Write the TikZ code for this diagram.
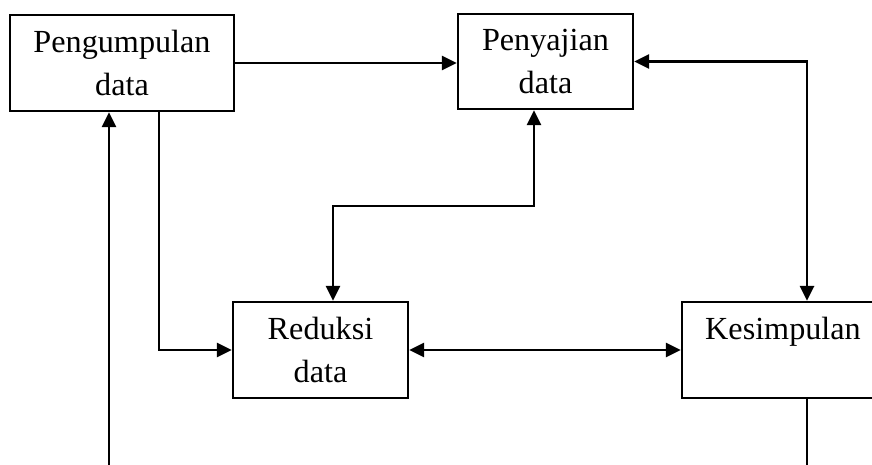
\documentclass[tikz,border=0pt]{standalone}
\usepackage{fontspec}
\setmainfont{Liberation Serif}
\usetikzlibrary{arrows.meta}
\tikzset{
  box/.style={draw, line width=1.1pt, align=center, inner sep=0pt,
    font=\fontsize{16.1}{21.2}\selectfont},
  conn/.style={line width=1.4pt, >={Triangle[length=7.5pt,width=7pt]}}
}
\begin{document}
\begin{tikzpicture}[x=0.5pt,y=-0.5pt]
\useasboundingbox (0,0) rectangle (872,465);
\clip (0,0) rectangle (872,465);
\node[box, minimum width=112pt, minimum height=48pt] (A) at (122,63) {Pengumpulan\\data};
\node[box, minimum width=87.5pt, minimum height=47.5pt] (B) at (545.5,61.5) {Penyajian\\data};
\node[box, minimum width=87.5pt, minimum height=48pt] (C) at (320.5,350) {Reduksi\\data};
\node[box, minimum width=101pt, minimum height=48pt] (D) at (783,350) {Kesimpulan\\\phantom{data}};
\coordinate (Bot1) at (109,465);
\coordinate (Bot2) at (807,465);
\coordinate (K1) at (534,206);
\coordinate (K2) at (333,206);
\coordinate (J) at (159,350);
\draw[conn,->] (A.east) -- (A.east -| B.west);
\draw[conn,<->] (B.east) -- (Bot2 |- B.east) -- (Bot2 |- D.north);
\draw[conn,<->] (K1 |- B.south) -- (K1) -- (K2) -- (K2 |- C.north);
\draw[conn,->] (J |- A.south) -- (J) -- (C.west);
\draw[conn,<->] (C.east) -- (D.west);
\draw[conn] (Bot2 |- D.south) -- (Bot2);
\draw[conn,->] (Bot1) -- (Bot1 |- A.south);
\end{tikzpicture}
\end{document}
